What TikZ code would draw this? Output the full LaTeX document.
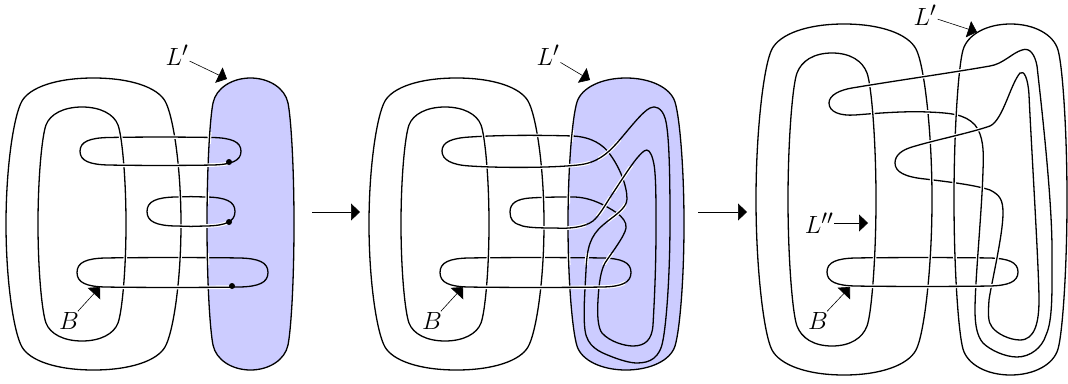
\documentclass[tikz,border=0pt]{standalone}
\usepackage{amsmath,amssymb}
\usetikzlibrary{arrows.meta}

\definecolor{diskblue}{rgb}{0.8,0.8,1}

% ring: left, right, top, bottom, corner inset x, corner inset y
\newcommand{\ringshape}[6]{
  ({(#1+#2)/2},#3)
  .. controls ({(#1+#2)/2-(#2-#1)*.21},#3) and ({#1+1.5*#5},{#3+.4*#6}) .. ({#1+#5},{#3+#6})
  .. controls ({#1+.5*#5},{#3+1.6*#6}) and (#1,{(#3+#4)/2-(#4-#3)*.2}) .. (#1,{(#3+#4)/2})
  .. controls (#1,{(#3+#4)/2+(#4-#3)*.2}) and ({#1+.5*#5},{#4-1.6*#6}) .. ({#1+#5},{#4-#6})
  .. controls ({#1+1.5*#5},{#4-.4*#6}) and ({(#1+#2)/2-(#2-#1)*.21},#4) .. ({(#1+#2)/2},#4)
  .. controls ({(#1+#2)/2+(#2-#1)*.21},#4) and ({#2-1.5*#5},{#4-.4*#6}) .. ({#2-#5},{#4-#6})
  .. controls ({#2-.5*#5},{#4-1.6*#6}) and (#2,{(#3+#4)/2+(#4-#3)*.2}) .. (#2,{(#3+#4)/2})
  .. controls (#2,{(#3+#4)/2-(#4-#3)*.2}) and ({#2-.5*#5},{#3+1.6*#6}) .. ({#2-#5},{#3+#6})
  .. controls ({#2-1.5*#5},{#3+.4*#6}) and ({(#1+#2)/2+(#2-#1)*.21},#3) .. cycle
}
% flat loop: left tip, right tip, top, bottom
\newcommand{\pillshape}[4]{
  (#1,{(#3+#4)/2})
  .. controls (#1,{#3+4}) and ({#1+10},{#3+.5}) .. ({#1+28},#3)
  .. controls ({#1+60},{#3-.6}) and ({#2-60},{#3-.6}) .. ({#2-28},#3)
  .. controls ({#2-10},{#3+.5}) and (#2,{#3+4}) .. (#2,{(#3+#4)/2})
  .. controls (#2,{#4-4}) and ({#2-10},{#4-.5}) .. ({#2-28},#4)
  .. controls ({#2-60},{#4+.6}) and ({#1+60},{#4+.6}) .. ({#1+28},#4)
  .. controls ({#1+10},{#4-.5}) and (#1,{#4-4}) .. cycle
}
\newcommand{\pathouterA}{\ringshape{6}{181}{78}{370}{16}{23}}
\newcommand{\pathinnerA}{\ringshape{38}{126}{107}{341}{8}{18}}
\newcommand{\pathdiskA}{\ringshape{207}{294}{78}{370}{6}{25}}
\newcommand{\pathouterB}{\ringshape{369}{544}{78}{370}{16}{23}}
\newcommand{\pathinnerB}{\ringshape{401}{489}{107}{341}{8}{18}}
\newcommand{\pathdiskB}{\ringshape{568}{684}{78}{370}{9}{24}}
\newcommand{\pathouterC}{\ringshape{756}{932}{24}{375}{16}{25}}
\newcommand{\pathinnerC}{\ringshape{788}{876}{53}{346}{9}{20}}
\newcommand{\pathdiskC}{\ringshape{954}{1067}{24}{375}{9}{26}}
% the bands
\newcommand{\bandAa}{\pillshape{80}{241}{137.5}{165}}
\newcommand{\bandAb}{\pillshape{147}{235}{197}{226}}
\newcommand{\bandAc}{\pillshape{77}{268}{258}{287}}
\newcommand{\bandBc}{\pillshape{440}{631}{258}{287}}
\newcommand{\bandCc}{\pillshape{827}{1018}{258}{286}}
% second panel, out to the peak and back
\newcommand{\bandBaout}{(442,151) .. controls (442,142) and (452,138) .. (470,137)
  .. controls (500,135) and (540,135) .. (573,136)
  .. controls (592,137) and (603,145) .. (609,153)
  .. controls (619,166) and (627,185) .. (627,199)
  .. controls (627,209) and (612,217) .. (603,225)
  .. controls (590,236) and (587,248) .. (586,270)
  .. controls (585,290) and (583,315) .. (585,330)
  .. controls (587,347) and (600,352) .. (610,356)
  .. controls (620,360) and (630,363) .. (637,363)
  .. controls (650,363) and (660,358) .. (663,340)
  .. controls (666,325) and (670,280) .. (670,220)
  .. controls (670,170) and (669,130) .. (665,118)
  .. controls (662,108) and (655,105) .. (650,108)}
\newcommand{\bandBaret}{(650,108) .. controls (642,112) and (630,128) .. (617,143)
  .. controls (607,154) and (597,163) .. (578,165)
  .. controls (550,168) and (500,168) .. (470,166)
  .. controls (452,165) and (442,160) .. (442,151)}
\newcommand{\bandBbout}{(510,212) .. controls (510,203) and (517,199) .. (530,198)
  .. controls (545,197) and (560,197) .. (573,197)
  .. controls (590,197) and (605,205) .. (617,213)
  .. controls (622,217) and (627,222) .. (626,228)
  .. controls (625,236) and (610,255) .. (605,263)
  .. controls (601,270) and (599,282) .. (598,300)
  .. controls (597,315) and (598,328) .. (602,333)
  .. controls (610,342) and (625,346) .. (633,346)
  .. controls (645,346) and (652,340) .. (653,325)
  .. controls (655,290) and (656,260) .. (656,227)
  .. controls (656,195) and (656,170) .. (653,160)
  .. controls (651,152) and (648,148) .. (644,151)}
\newcommand{\bandBbret}{(644,151) .. controls (636,157) and (625,175) .. (613,193)
  .. controls (605,205) and (600,215) .. (593,221)
  .. controls (585,227) and (570,229) .. (555,228)
  .. controls (545,228) and (525,228) .. (520,225)
  .. controls (513,223) and (510,219) .. (510,212)}
% third panel, the same two bands pulled across
\newcommand{\bandCaout}{(829,103) .. controls (829,95) and (840,90) .. (852,88)
  .. controls (900,80) and (950,73) .. (990,66)
  .. controls (1003,64) and (1012,53) .. (1022,50)
  .. controls (1030,47) and (1035,55) .. (1037,66)
  .. controls (1042,110) and (1052,200) .. (1052,250)
  .. controls (1052,290) and (1053,320) .. (1046,335)
  .. controls (1042,348) and (1030,357) .. (1017,357)
  .. controls (1005,357) and (990,350) .. (983,343)
  .. controls (977,336) and (975,325) .. (975,310)
  .. controls (975,280) and (982,210) .. (983,170)}
\newcommand{\bandCaret}{(983,170) .. controls (984,150) and (983,135) .. (975,125)
  .. controls (965,114) and (950,113) .. (928,112)
  .. controls (905,111) and (880,113) .. (855,115)
  .. controls (840,116) and (829,112) .. (829,103)}
\newcommand{\bandCbout}{(895,163) .. controls (895,155) and (902,150) .. (912,147)
  .. controls (935,140) and (970,133) .. (990,126)
  .. controls (1003,120) and (1010,85) .. (1020,73)
  .. controls (1024,70) and (1028,78) .. (1029,95)
  .. controls (1031,140) and (1039,270) .. (1039,300)
  .. controls (1039,322) and (1035,340) .. (1020,340)
  .. controls (1010,340) and (997,334) .. (992,327)
  .. controls (988,322) and (988,315) .. (989,300)
  .. controls (991,285) and (1003,235) .. (1003,213)}
\newcommand{\bandCbret}{(1003,213) .. controls (1003,200) and (1000,195) .. (990,190)
  .. controls (975,185) and (950,182) .. (925,179)
  .. controls (905,177) and (895,172) .. (895,163)}

% ring or band redrawn above its neighbours inside a small window
\newcommand{\overwin}[5]{\begin{scope}\clip (#1,#2) rectangle (#3,#4); #5\end{scope}}
\newcommand{\topdraw}[1]{\draw[strand,halo] #1;}

\begin{document}
\begin{tikzpicture}[x=1pt,y=-1pt,font=\Huge,
  strand/.style={black,line width=1.3pt,line join=round},
  halo/.style={preaction={draw,white,line width=3.6pt}},
  disk/.style={fill=diskblue},
  dot/.style={circle,fill=black,inner sep=0pt,minimum size=6pt},
  lbl/.style={inner sep=1pt},
  pointer/.style={-{Triangle[length=9,width=17]},line width=.6pt,black}]
\useasboundingbox (0,0) rectangle (1068,383);

% first panel
\fill[disk] \pathdiskA;
\draw[strand] \pathouterA;
\draw[strand] \pathinnerA;
\draw[strand] \pathdiskA;
\draw[strand] \bandAa;
\draw[strand] \bandAb;
\draw[strand] \bandAc;
\overwin{112}{132}{132}{143}{\topdraw{\pathinnerA}}
\overwin{170}{132}{186}{143}{\topdraw{\bandAa}}
\overwin{200}{132}{216}{143}{\topdraw{\pathdiskA}}
\overwin{100}{160}{229}{171}{\topdraw{\bandAa}}
\overwin{172}{192}{190}{203}{\topdraw{\pathouterA}}
\overwin{200}{192}{216}{203}{\topdraw{\pathdiskA}}
\overwin{170}{221}{229}{232}{\topdraw{\bandAb}}
\foreach \ringpath in {\pathinnerA,\pathouterA,\pathdiskA}{
  \overwin{110}{253}{216}{264}{\topdraw{\ringpath}}
}
\overwin{105}{281}{232}{292}{\topdraw{\bandAc}}
\node[dot] (dotA) at (229,162) {};
\node[dot] (dotB) at (229,222) {};
\node[dot] (dotC) at (232,286) {};

\node[lbl] (diskLabelA) at (177,55) {$L'$};
\coordinate (diskTipA) at (227,79);
\draw[pointer] (diskLabelA) -- (diskTipA);
\node[lbl] (bandLabelA) at (69,321) {$B$};
\coordinate (bandTipA) at (100,287);
\draw[pointer] (bandLabelA) -- (bandTipA);

% first arrow
\coordinate (stepAin) at (312,212);
\coordinate (stepAout) at (360,212);
\draw[pointer] (stepAin) -- (stepAout);

% second panel
\fill[disk] \pathdiskB;
\draw[strand] \pathouterB;
\draw[strand] \pathinnerB;
\draw[strand] \pathdiskB;
\draw[strand] \bandBaout;
\draw[strand] \bandBaret;
\draw[strand] \bandBbout;
\draw[strand] \bandBbret;
\draw[strand] \bandBc;
\overwin{480}{130}{498}{141}{\topdraw{\pathinnerB}}
\overwin{536}{130}{552}{141}{\topdraw{\bandBaout}}
\overwin{560}{130}{577}{141}{\topdraw{\pathdiskB}}
\overwin{480}{161}{590}{173}{\topdraw{\bandBaret}}
\overwin{536}{192}{553}{203}{\topdraw{\pathouterB}}
\overwin{560}{192}{577}{203}{\topdraw{\pathdiskB}}
\overwin{536}{222}{586}{233}{\topdraw{\bandBbret}}
\overwin{480}{253}{496}{264}{\topdraw{\pathinnerB}}
\overwin{536}{253}{552}{264}{\topdraw{\pathouterB}}
\overwin{560}{253}{577}{264}{\topdraw{\pathdiskB}}
\overwin{578}{253}{614}{264}{\topdraw{\bandBaout}\topdraw{\bandBbout}}
\overwin{480}{281}{625}{292}{\topdraw{\bandBc}}
% the bands among themselves
\overwin{598}{140}{621}{164}{\topdraw{\bandBaret}}
\overwin{612}{166}{636}{192}{\topdraw{\bandBbret}}
\overwin{596}{196}{611}{215}{\topdraw{\bandBbret}}
\overwin{608}{203}{626}{224}{\topdraw{\bandBaout}}

\node[lbl] (diskLabelB) at (548,55) {$L'$};
\coordinate (diskTipB) at (590,80);
\draw[pointer] (diskLabelB) -- (diskTipB);
\node[lbl] (bandLabelB) at (432,321) {$B$};
\coordinate (bandTipB) at (463,287);
\draw[pointer] (bandLabelB) -- (bandTipB);

% second arrow
\coordinate (stepBin) at (698,212);
\coordinate (stepBout) at (747,212);
\draw[pointer] (stepBin) -- (stepBout);

% third panel
\draw[strand] \pathouterC;
\draw[strand] \pathinnerC;
\draw[strand] \pathdiskC;
\draw[strand] \bandCaout;
\draw[strand] \bandCaret;
\draw[strand] \bandCbout;
\draw[strand] \bandCbret;
\draw[strand] \bandCc;
\foreach \ringpath in {\pathinnerC,\pathouterC,\pathdiskC,\bandCaout,\bandCbout}{
  \overwin{865}{253}{1008}{264}{\topdraw{\ringpath}}
}
\overwin{860}{281}{1008}{292}{\topdraw{\bandCc}}
\overwin{860}{76}{877}{92}{\topdraw{\bandCaout}}
\overwin{914}{68}{930}{83}{\topdraw{\bandCaout}}
\overwin{952}{62}{968}{77}{\topdraw{\bandCaout}}
\overwin{866}{107}{884}{121}{\topdraw{\pathinnerC}}
\overwin{920}{105}{936}{119}{\topdraw{\bandCaret}}
\overwin{947}{106}{963}{120}{\topdraw{\pathdiskC}}
\overwin{921}{136}{938}{150}{\topdraw{\bandCbout}}
\overwin{947}{131}{964}{146}{\topdraw{\bandCbout}}
\overwin{970}{120}{987}{137}{\topdraw{\bandCbout}}
\overwin{922}{172}{938}{186}{\topdraw{\pathouterC}}
\overwin{947}{175}{963}{189}{\topdraw{\pathdiskC}}
\overwin{975}{181}{991}{196}{\topdraw{\bandCaout}}

\node[lbl] (diskLabelC) at (925,15) {$L'$};
\coordinate (diskTipC) at (977,32);
\draw[pointer] (diskLabelC) -- (diskTipC);
\node[lbl] (curveLabelC) at (819,223) {$L''$};
\coordinate (curveTipC) at (868,223);
\draw[pointer] (curveLabelC) -- (curveTipC);
\node[lbl] (bandLabelC) at (818,321) {$B$};
\coordinate (bandTipC) at (850,287);
\draw[pointer] (bandLabelC) -- (bandTipC);
\end{tikzpicture}
\end{document}
